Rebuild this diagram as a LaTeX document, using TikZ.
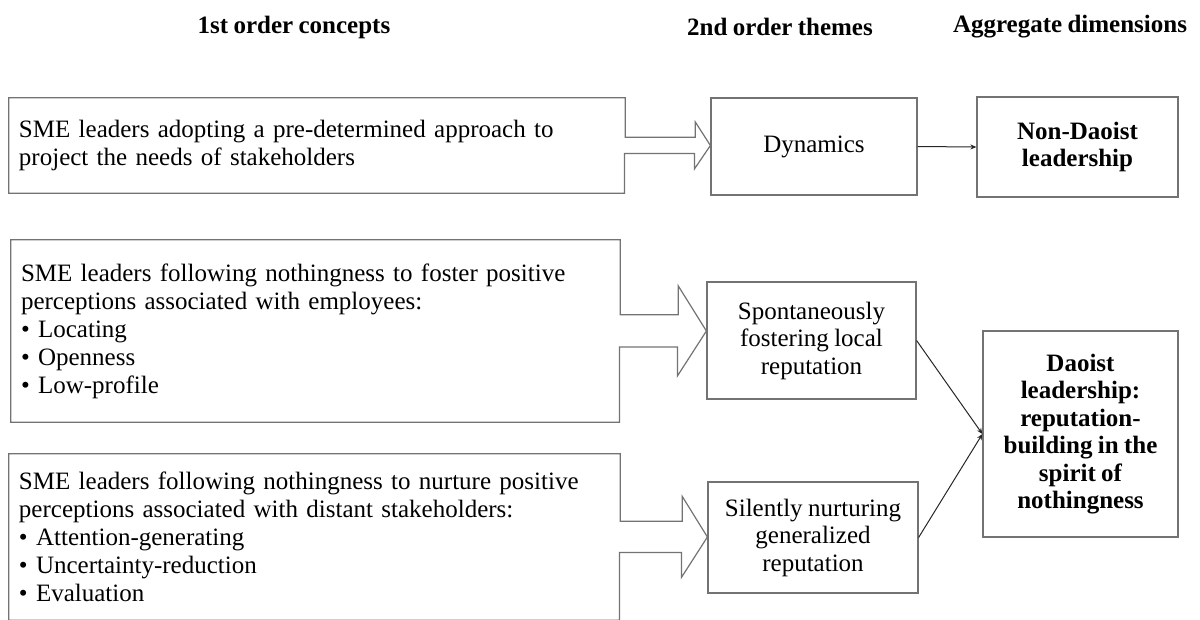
\documentclass[tikz,border=0pt]{standalone}
\usepackage{fontspec}
\setmainfont{Liberation Serif}[WordSpace=0.85]
\usetikzlibrary{arrows.meta}

\tikzset{
  txt/.style={font=\fontsize{25}{27.5}\selectfont},
  head/.style={font=\bfseries\fontsize{25}{27.5}\selectfont},
  concept/.style={font=\fontsize{25}{28}\selectfont, inner xsep=10pt, inner ysep=0pt, align=left},
  theme/.style={txt, draw=black!55, line width=1.2pt, inner sep=0pt, align=center},
  dimension/.style={theme, font=\bfseries\fontsize{25}{27.5}\selectfont},
  outline/.style={draw=black!55, line width=1.2pt},
  link/.style={draw=black!85, line width=1pt, -{Stealth[length=6pt,width=5pt]}}
}

\begin{document}
\begin{tikzpicture}[x=1pt,y=1pt]
    \clip (0,0) rectangle (1200,-619);
    % column titles
    \node[head] (h1) at (294,-27) {1st order concepts};
    \node[head] (h2) at (780,-27) {2nd order themes};
    \node[head] (h3) at (1070,-27) {Aggregate dimensions};

    % first order concepts
    \node[concept, text width=596pt, minimum height=95pt] (c1) at (317,-145.5)
        {SME leaders adopting a pre-determined approach to\\project the needs of stakeholders};
    \node[concept, text width=589pt, minimum height=182pt] (c2) at (315.5,-331)
        {SME leaders following nothingness to foster positive\\perceptions associated with employees:\\
         \textbullet\ Locating\\\textbullet\ Openness\\\textbullet\ Low-profile};
    \node[concept, text width=591pt, minimum height=166pt] (c3) at (314.5,-537)
        {SME leaders following nothingness to nurture positive\\perceptions associated with distant stakeholders:\\
         \textbullet\ Attention-generating\\\textbullet\ Uncertainty-reduction\\\textbullet\ Evaluation};

    % second order themes
    \node[theme, minimum width=206pt, minimum height=97pt] (t1) at (814,-146.5) {Dynamics};
    \node[theme, minimum width=209pt, minimum height=117pt] (t2) at (811.5,-340.5)
        {Spontaneously\\fostering local\\reputation};
    \node[theme, minimum width=210pt, minimum height=111pt] (t3) at (813,-537.5)
        {Silently nurturing\\generalized\\reputation};

    % aggregate dimensions
    \node[dimension, minimum width=201pt, minimum height=100pt] (d1) at (1077.5,-147)
        {Non-Daoist\\leadership};
    \node[dimension, minimum width=195pt, minimum height=206pt] (d2) at (1080.5,-434)
        {Daoist\\leadership:\\reputation-\\building in the\\spirit of\\nothingness};

    % concept boxes with their block arrows
    \draw[outline] (c1.north west) -- (c1.north east) -- ++(0,-39.5) -- ++(70,0) -- ++(0,15.5)
        -- (t1.west |- c1.east) -- ++(-16,-23.5) -- ++(0,15.5) -- ++(-70,0) |- (c1.south west) -- cycle;
    \draw[outline] (c2.north west) -- (c2.north east) -- ++(0,-75) -- ++(58,0) -- ++(0,29)
        -- (t2.west |- c2.east) -- ++(-29,-45) -- ++(0,29) -- ++(-58,0) |- (c2.south west) -- cycle;
    \draw[outline] (c3.north west) -- (c3.north east) -- ++(0,-67.5) -- ++(62,0) -- ++(0,25)
        -- (t3.west |- c3.east) -- ++(-26,-40.5) -- ++(0,25) -- ++(-62,0) |- (c3.south west) -- cycle;

    \draw[link] (t1.east) -- (d1.west);
    \draw[link] (t2.east) -- (d2.west);
    \draw[link] (t3.east) -- (d2.west);
\end{tikzpicture}
\end{document}
